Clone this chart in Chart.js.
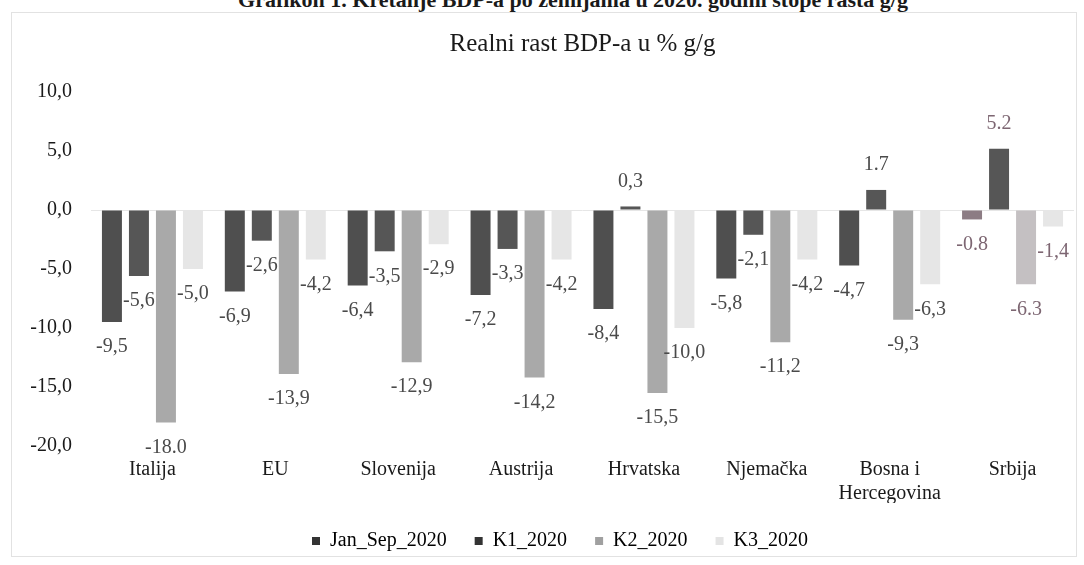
<!DOCTYPE html>
<html>
<head>
<meta charset="utf-8">
<script src="https://cdn.jsdelivr.net/npm/chart.js@4.4.1/dist/chart.umd.min.js"></script>
<style>
html, body { margin: 0; padding: 0; background: #fff; }
#wrap { position: relative; width: 1084px; height: 565px; overflow: hidden; }
#frame { position: absolute; left: 11px; top: 12px; width: 1064px; height: 543px; border: 1px solid #e2e2e2; }
#header { position: absolute; left: 0; width: 1146px; top: -11px; text-align: center; font: bold 22px "Liberation Serif", serif; color: #1a1a1a; line-height: 1; white-space: nowrap; }
#chart { position: absolute; left: 0; top: 0; }
</style>
</head>
<body>
<div id="wrap">
  <div id="frame"></div>
  <div id="header">Grafikon 1. Kretanje BDP-a po zemljama u 2020. godini stope rasta g/g</div>
  <canvas id="chart" width="1084" height="565"></canvas>
</div>
<script>
// data
const categories = ['Italija', 'EU', 'Slovenija', 'Austrija', 'Hrvatska', 'Njemačka', ['Bosna i', 'Hercegovina'], 'Srbija'];
const seriesNames = ['Jan_Sep_2020', 'K1_2020', 'K2_2020', 'K3_2020'];
const janSep = [-9.5, -6.9, -6.4, -7.2, -8.4, -5.8, -4.7, -0.8];
const k1 = [-5.6, -2.6, -3.5, -3.3, 0.3, -2.1, 1.7, 5.2];
const k2 = [-18.0, -13.9, -12.9, -14.2, -15.5, -11.2, -9.3, -6.3];
const k3 = [-5.0, -4.2, -2.9, -4.2, -10.0, -4.2, -6.3, -1.4];
const yTicks = [10, 5, 0, -5, -10, -15, -20];
// labels printed with a dot instead of a comma in the source
const dotted = [[7], [6, 7], [0, 7], []];

const SERIF = '"Liberation Serif", "Times New Roman", serif';
const barColors = [
  ['#4f4f4f', '#4f4f4f', '#4f4f4f', '#4f4f4f', '#4f4f4f', '#4f4f4f', '#4f4f4f', '#8c7c84'],
  '#565656',
  ['#a9a9a9', '#a9a9a9', '#a9a9a9', '#a9a9a9', '#a9a9a9', '#a9a9a9', '#a9a9a9', '#c4c0c2'],
  '#e6e6e6'
];
const legendColors = ['#333', '#333', '#a0a0a0', '#e4e4e4'];

const fmt = (v, dot) => {
  const s = v.toFixed(1);
  return dot ? s : s.replace('.', ',');
};

const barLabels = {
  id: 'barLabels',
  afterDatasetsDraw(chart) {
    const ctx = chart.ctx;
    ctx.save();
    ctx.font = '20px ' + SERIF;
    ctx.textAlign = 'center';
    ctx.textBaseline = 'middle';
    chart.data.datasets.forEach((ds, di) => {
      const meta = chart.getDatasetMeta(di);
      meta.data.forEach((bar, i) => {
        const v = ds.data[i];
        const y = v >= 0 ? bar.y - 25 : bar.y + 25;
        ctx.fillStyle = i === 7 ? '#7d6672' : '#4a4a4a';
        ctx.fillText(fmt(v, dotted[di].includes(i)), bar.x, y);
      });
    });
    ctx.restore();
  }
};

// the source legend sits a bit right of the canvas centre
const shiftLegend = {
  id: 'shiftLegend',
  afterLayout(chart) {
    chart.legend.left += 17;
    chart.legend.right += 17;
  }
};

const datasets = [janSep, k1, k2, k3].map((d, i) => ({
  label: seriesNames[i],
  data: d,
  backgroundColor: barColors[i],
  borderWidth: 0,
  barPercentage: 0.74,
  categoryPercentage: 0.879
}));

new Chart(document.getElementById('chart'), {
  type: 'bar',
  data: { labels: categories, datasets },
  plugins: [barLabels, shiftLegend],
  options: {
    responsive: false,
    animation: false,
    layout: { padding: { left: 12, right: 10, top: 14, bottom: 4 } },
    plugins: {
      tooltip: { enabled: false },
      title: {
        display: true,
        text: 'Realni rast BDP-a u % g/g',
        fullSize: false,
        color: '#1a1a1a',
        font: { family: SERIF, size: 25, weight: 'normal' },
        padding: { top: 15, bottom: 33 }
      },
      legend: {
        position: 'bottom',
        labels: {
          color: '#1a1a1a',
          font: { family: SERIF, size: 20 },
          boxWidth: 8,
          boxHeight: 8,
          padding: 28,
          generateLabels: (chart) => chart.data.datasets.map((ds, i) => ({
            text: ds.label,
            fillStyle: legendColors[i],
            strokeStyle: legendColors[i],
            lineWidth: 0,
            datasetIndex: i
          }))
        }
      }
    },
    scales: {
      x: {
        grid: { display: false, drawTicks: false },
        border: { display: false },
        ticks: { color: '#1a1a1a', font: { family: SERIF, size: 20 }, padding: 12, maxRotation: 0, autoSkip: false },
        afterFit: (s) => { s.height = 57; }
      },
      y: {
        min: -20,
        max: 10,
        afterBuildTicks: (s) => { s.ticks = yTicks.map((v) => ({ value: v })); },
        grid: {
          drawTicks: false,
          color: (c) => (c.tick && c.tick.value === 0 ? '#e6e6e6' : 'transparent')
        },
        border: { display: false },
        ticks: {
          color: '#1a1a1a',
          font: { family: SERIF, size: 20 },
          padding: 19,
          callback: (v) => fmt(v, false)
        },
        afterFit: (s) => { s.width = 79; }
      }
    }
  }
});
</script>
</body>
</html>
